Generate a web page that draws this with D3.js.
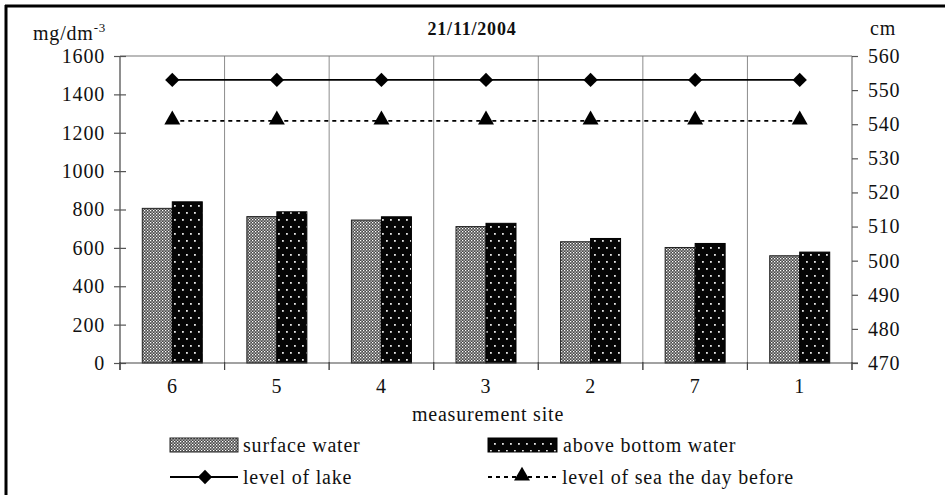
<!DOCTYPE html>
<html>
<head>
<meta charset="utf-8">
<script src="https://cdn.jsdelivr.net/npm/d3@7"></script>
<style>
  html, body { margin: 0; padding: 0; background: #fff; }
  svg { display: block; }
  svg text { letter-spacing: 0.8px; }
</style>
</head>
<body>
<svg id="chart" width="945" height="495"></svg>
<script>
// Measurement sites in the order they are plotted
const sites = ["6", "5", "4", "3", "2", "7", "1"];
// Concentrations, mg/dm-3
const surfaceWater = [806, 763, 745, 711, 632, 602, 559];
const aboveBottomWater = [840, 788, 762, 728, 649, 623, 578];
// Water levels, cm
const lakeLevel = [553, 553, 553, 553, 553, 553, 553];
const seaLevelDayBefore = [541, 541, 541, 541, 541, 541, 541];
// Axis ticks
const leftTicks = [0, 200, 400, 600, 800, 1000, 1200, 1400, 1600];
const rightTicks = [470, 480, 490, 500, 510, 520, 530, 540, 550, 560];

(function draw() {
const FONT = "'Liberation Serif', 'Tinos', 'Nimbus Roman', 'DejaVu Serif', 'Times New Roman', serif";
const FS = 20;
const svg = d3.select("#chart");
const pL = 120, pR = 852, pT = 56, pB = 363;

const x = d3.scaleBand().domain(sites).range([pL, pR]).padding(0);
const yL = d3.scaleLinear().domain([0, 1600]).range([pB, pT]);
const yR = d3.scaleLinear().domain([470, 560]).range([pB, pT]);

// Fill patterns for the two bar series
const defs = svg.append("defs");
const patS = defs.append("pattern").attr("id", "pSurface")
  .attr("patternUnits", "userSpaceOnUse").attr("width", 3).attr("height", 3);
patS.append("rect").attr("width", 3).attr("height", 3).attr("fill", "#484848");
patS.append("rect").attr("x", 0).attr("y", 0).attr("width", 1.3).attr("height", 1.3).attr("fill", "#fff");
patS.append("rect").attr("x", 1.5).attr("y", 1.5).attr("width", 1.3).attr("height", 1.3).attr("fill", "#ddd");

const patB = defs.append("pattern").attr("id", "pBottom")
  .attr("patternUnits", "userSpaceOnUse").attr("width", 8).attr("height", 14);
patB.append("rect").attr("width", 8).attr("height", 14).attr("fill", "#050505");
patB.append("rect").attr("x", 2).attr("y", 2).attr("width", 1.8).attr("height", 1.8).attr("fill", "#e6e6e6");
patB.append("rect").attr("x", 6).attr("y", 9).attr("width", 1.8).attr("height", 1.8).attr("fill", "#e6e6e6");

// Outer frame (top and left edges)
svg.append("line").attr("x1", 5).attr("x2", 945).attr("y1", 6).attr("y2", 6)
  .attr("stroke", "#000").attr("stroke-width", 3);
svg.append("line").attr("x1", 6).attr("x2", 6).attr("y1", 5).attr("y2", 495)
  .attr("stroke", "#000").attr("stroke-width", 3);

// Vertical separators between sites
const bounds = sites.slice(1).map(s => x(s));
svg.append("g").selectAll("line").data(bounds).join("line")
  .attr("x1", d => d).attr("x2", d => d).attr("y1", pT).attr("y2", pB + 7)
  .attr("stroke", "#8c8c8c").attr("stroke-width", 1);

// Top edge of the plot area
svg.append("line").attr("x1", pL).attr("x2", pR).attr("y1", pT).attr("y2", pT)
  .attr("stroke", "#777").attr("stroke-width", 1.2);

// Bars
const bw = 30;
const barG = svg.append("g");
barG.selectAll("rect.s").data(sites).join("rect").attr("class", "s")
  .attr("x", d => x(d) + x.bandwidth() / 2 - bw)
  .attr("y", (d, i) => yL(surfaceWater[i]))
  .attr("width", bw)
  .attr("height", (d, i) => pB - yL(surfaceWater[i]))
  .attr("fill", "url(#pSurface)").attr("stroke", "#222").attr("stroke-width", 1);
barG.selectAll("rect.b").data(sites).join("rect").attr("class", "b")
  .attr("x", d => x(d) + x.bandwidth() / 2)
  .attr("y", (d, i) => yL(aboveBottomWater[i]))
  .attr("width", bw)
  .attr("height", (d, i) => pB - yL(aboveBottomWater[i]))
  .attr("fill", "url(#pBottom)").attr("stroke", "#000").attr("stroke-width", 1);

// Axes
const axL = svg.append("g").attr("transform", `translate(${pL},0)`)
  .call(d3.axisLeft(yL).tickValues(leftTicks).tickSize(6).tickPadding(9).tickFormat(d3.format("d")));
axL.selectAll(".tick line").attr("x2", 6).attr("x1", -6);
const axR = svg.append("g").attr("transform", `translate(${pR},0)`)
  .call(d3.axisRight(yR).tickValues(rightTicks).tickSize(6).tickPadding(10).tickFormat(d3.format("d")));
const axB = svg.append("g").attr("transform", `translate(0,${pB})`)
  .call(d3.axisBottom(x).tickSize(0).tickPadding(16));
axB.select(".domain").remove();
// bottom baseline and tick marks at category boundaries
svg.append("line").attr("x1", pL).attr("x2", pR + 6).attr("y1", pB).attr("y2", pB)
  .attr("stroke", "#444").attr("stroke-width", 1.2);
svg.append("g").selectAll("line").data([pL, ...bounds, pR]).join("line")
  .attr("x1", d => d).attr("x2", d => d).attr("y1", pB - 1).attr("y2", pB + 7)
  .attr("stroke", "#444").attr("stroke-width", 1.2);

[axL, axR, axB].forEach(a => {
  a.attr("font-family", FONT).attr("font-size", FS);
  a.selectAll("text").attr("fill", "#111");
  a.selectAll(".tick line").attr("stroke", "#555").attr("stroke-width", 1.2);
});
axL.select(".domain").attr("stroke", "#444").attr("stroke-width", 1.2).attr("d", `M0,${pT}V${pB + 7}`);
axR.select(".domain").attr("stroke", "#777").attr("stroke-width", 1.2).attr("d", `M0,${pT}V${pB + 7}`);

// Level lines
const cx = d => x(d) + x.bandwidth() / 2;
const levelLine = d3.line().x((d, i) => cx(sites[i])).y(d => yR(d));
svg.append("path").attr("d", levelLine(lakeLevel))
  .attr("fill", "none").attr("stroke", "#000").attr("stroke-width", 1.8);
svg.append("path").attr("d", levelLine(seaLevelDayBefore))
  .attr("fill", "none").attr("stroke", "#000").attr("stroke-width", 1.8).attr("stroke-dasharray", "4,4");
const diamond = d3.symbol().type(d3.symbolDiamond2).size(130);
const tri = d3.symbol().type(d3.symbolTriangle).size(110);
svg.append("g").selectAll("path").data(lakeLevel).join("path")
  .attr("transform", (d, i) => `translate(${cx(sites[i])},${yR(d)})`).attr("d", diamond).attr("fill", "#000");
svg.append("g").selectAll("path").data(seaLevelDayBefore).join("path")
  .attr("transform", (d, i) => `translate(${cx(sites[i])},${yR(d) - 1})`).attr("d", tri).attr("fill", "#000");

// Titles
const txt = svg.append("g").attr("font-family", FONT).attr("fill", "#111");
txt.append("text").attr("x", 472).attr("y", 35).attr("text-anchor", "middle")
  .attr("font-size", 18).attr("font-weight", "bold").text("21/11/2004");
const unitL = txt.append("text").attr("x", 33).attr("y", 40).attr("font-size", FS);
unitL.append("tspan").text("mg/dm");
unitL.append("tspan").attr("dy", -8).attr("font-size", 13).text("-3");
txt.append("text").attr("x", 870).attr("y", 35).attr("font-size", FS).text("cm");
txt.append("text").attr("x", 488).attr("y", 421).attr("text-anchor", "middle")
  .attr("font-size", FS).text("measurement site");

// Legend
const lg = svg.append("g").attr("font-size", FS).attr("font-family", FONT).attr("fill", "#111");
lg.append("rect").attr("x", 170).attr("y", 438).attr("width", 68).attr("height", 14)
  .attr("fill", "url(#pSurface)").attr("stroke", "#222");
lg.append("text").attr("x", 243).attr("y", 452).text("surface water");
lg.append("rect").attr("x", 488).attr("y", 438).attr("width", 69).attr("height", 14)
  .attr("fill", "url(#pBottom)").attr("stroke", "#000");
lg.append("text").attr("x", 563).attr("y", 452).text("above bottom water");
lg.append("line").attr("x1", 170).attr("x2", 238).attr("y1", 477).attr("y2", 477)
  .attr("stroke", "#000").attr("stroke-width", 1.8);
lg.append("path").attr("transform", "translate(205,477)").attr("d", diamond).attr("fill", "#000");
lg.append("text").attr("x", 243).attr("y", 484).text("level of lake");
lg.append("line").attr("x1", 488).attr("x2", 557).attr("y1", 477).attr("y2", 477)
  .attr("stroke", "#000").attr("stroke-width", 1.8).attr("stroke-dasharray", "4,4");
lg.append("path").attr("transform", "translate(522,476)").attr("d", tri).attr("fill", "#000");
lg.append("text").attr("x", 562).attr("y", 484).text("level of sea the day before");
})();
</script>
</body>
</html>
